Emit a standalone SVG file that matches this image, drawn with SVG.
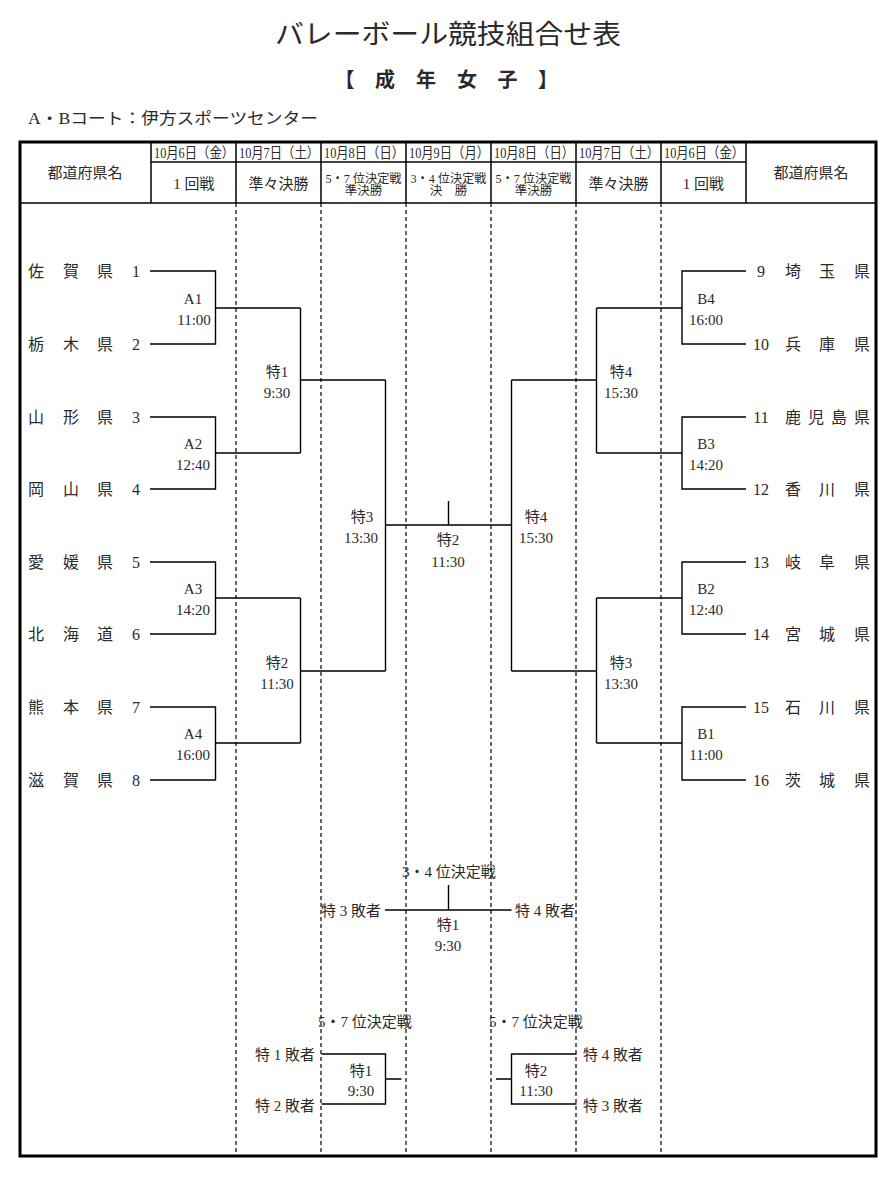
<svg xmlns="http://www.w3.org/2000/svg" width="892" height="1178" viewBox="0 0 892 1178">
<style>
text{font-family:"Liberation Serif","Noto Sans CJK JP",serif;fill:#2a2a2a}
.t{font-size:16px}
.m{font-size:15px;text-anchor:middle}
.h{font-size:15px;text-anchor:middle}
.d{font-size:14.5px}
.s{font-size:12.5px;text-anchor:middle}
.e{font-size:15px;text-anchor:end}
.b{fill:none;stroke:#000;stroke-width:1.4}
.dash{fill:none;stroke:#000;stroke-width:1.2;stroke-dasharray:4,3}
.frame{fill:none;stroke:#000;stroke-width:3}
.grid{fill:none;stroke:#000;stroke-width:1.5}
</style>
<rect width="892" height="1178" fill="#fff"/>
<g id="title">
<text x="275" y="44" font-size="27" textLength="346" lengthAdjust="spacingAndGlyphs">バレーボール競技組合せ表</text>
</g>
<g id="subtitle" font-size="20" font-weight="bold" text-anchor="middle">
<text x="344.5" y="87">【</text><text x="385" y="87">成</text><text x="426" y="87">年</text><text x="467" y="87">女</text><text x="507.5" y="87">子</text><text x="548" y="87">】</text>
</g>
<g id="venue"><text x="28" y="124" font-size="16" textLength="290" lengthAdjust="spacingAndGlyphs">A・Bコート：伊方スポーツセンター</text></g>
<g id="table">
<rect class="frame" x="20" y="142" width="856" height="1014"/>
<line class="grid" x1="151" y1="162" x2="746" y2="162"/>
<line class="grid" x1="20" y1="203" x2="876" y2="203"/>
<line class="grid" x1="151" y1="142" x2="151" y2="203"/>
<line class="grid" x1="236" y1="142" x2="236" y2="203"/>
<line class="grid" x1="321" y1="142" x2="321" y2="203"/>
<line class="grid" x1="406" y1="142" x2="406" y2="203"/>
<line class="grid" x1="491" y1="142" x2="491" y2="203"/>
<line class="grid" x1="576" y1="142" x2="576" y2="203"/>
<line class="grid" x1="661" y1="142" x2="661" y2="203"/>
<line class="grid" x1="746" y1="142" x2="746" y2="203"/>
<line class="dash" x1="236" y1="203" x2="236" y2="1155"/>
<line class="dash" x1="321" y1="203" x2="321" y2="1155"/>
<line class="dash" x1="406" y1="203" x2="406" y2="1155"/>
<line class="dash" x1="491" y1="203" x2="491" y2="1155"/>
<line class="dash" x1="576" y1="203" x2="576" y2="1155"/>
<line class="dash" x1="661" y1="203" x2="661" y2="1155"/>
</g>
<g id="header">
<text class="h" x="85" y="178">都道府県名</text>
<text class="h" x="811" y="178">都道府県名</text>
<text class="d" x="154" y="158" textLength="80" lengthAdjust="spacingAndGlyphs">10月6日（金）</text>
<text class="d" x="239" y="158" textLength="80" lengthAdjust="spacingAndGlyphs">10月7日（土）</text>
<text class="d" x="324" y="158" textLength="80" lengthAdjust="spacingAndGlyphs">10月8日（日）</text>
<text class="d" x="409" y="158" textLength="80" lengthAdjust="spacingAndGlyphs">10月9日（月）</text>
<text class="d" x="494" y="158" textLength="80" lengthAdjust="spacingAndGlyphs">10月8日（日）</text>
<text class="d" x="579" y="158" textLength="80" lengthAdjust="spacingAndGlyphs">10月7日（土）</text>
<text class="d" x="664" y="158" textLength="80" lengthAdjust="spacingAndGlyphs">10月6日（金）</text>
<text class="h" x="194" y="189">1 回戦</text>
<text class="h" x="278.5" y="189">準々決勝</text>
<text class="s" x="363.5" y="183" textLength="76" lengthAdjust="spacingAndGlyphs">5・7 位決定戦</text>
<text class="s" x="363.5" y="195">準決勝</text>
<text class="s" x="448.5" y="183" textLength="76" lengthAdjust="spacingAndGlyphs">3・4 位決定戦</text>
<text class="s" x="448.5" y="195">決　勝</text>
<text class="s" x="533.5" y="183" textLength="76" lengthAdjust="spacingAndGlyphs">5・7 位決定戦</text>
<text class="s" x="533.5" y="195">準決勝</text>
<text class="h" x="618.5" y="189">準々決勝</text>
<text class="h" x="703.5" y="189">1 回戦</text>
</g>
<g id="teams-left" class="t">
<g id="team1"><text x="28" y="277">佐</text><text x="63" y="277">賀</text><text x="97" y="277">県</text><text x="136" y="277" text-anchor="middle">1</text></g>
<g id="team2"><text x="28" y="350">栃</text><text x="63" y="350">木</text><text x="97" y="350">県</text><text x="136" y="350" text-anchor="middle">2</text></g>
<g id="team3"><text x="28" y="423">山</text><text x="63" y="423">形</text><text x="97" y="423">県</text><text x="136" y="423" text-anchor="middle">3</text></g>
<g id="team4"><text x="28" y="495">岡</text><text x="63" y="495">山</text><text x="97" y="495">県</text><text x="136" y="495" text-anchor="middle">4</text></g>
<g id="team5"><text x="28" y="568">愛</text><text x="63" y="568">媛</text><text x="97" y="568">県</text><text x="136" y="568" text-anchor="middle">5</text></g>
<g id="team6"><text x="28" y="640">北</text><text x="63" y="640">海</text><text x="97" y="640">道</text><text x="136" y="640" text-anchor="middle">6</text></g>
<g id="team7"><text x="28" y="713">熊</text><text x="63" y="713">本</text><text x="97" y="713">県</text><text x="136" y="713" text-anchor="middle">7</text></g>
<g id="team8"><text x="28" y="786">滋</text><text x="63" y="786">賀</text><text x="97" y="786">県</text><text x="136" y="786" text-anchor="middle">8</text></g>
</g>
<g id="teams-right" class="t">
<g id="team9"><text x="761" y="277" text-anchor="middle">9</text><text x="785" y="277">埼</text><text x="819" y="277">玉</text><text x="854" y="277">県</text></g>
<g id="team10"><text x="761" y="350" text-anchor="middle">10</text><text x="785" y="350">兵</text><text x="819" y="350">庫</text><text x="854" y="350">県</text></g>
<g id="team11"><text x="761" y="423" text-anchor="middle">11</text><text x="785" y="423">鹿</text><text x="808" y="423">児</text><text x="831" y="423">島</text><text x="854" y="423">県</text></g>
<g id="team12"><text x="761" y="495" text-anchor="middle">12</text><text x="785" y="495">香</text><text x="819" y="495">川</text><text x="854" y="495">県</text></g>
<g id="team13"><text x="761" y="568" text-anchor="middle">13</text><text x="785" y="568">岐</text><text x="819" y="568">阜</text><text x="854" y="568">県</text></g>
<g id="team14"><text x="761" y="640" text-anchor="middle">14</text><text x="785" y="640">宮</text><text x="819" y="640">城</text><text x="854" y="640">県</text></g>
<g id="team15"><text x="761" y="713" text-anchor="middle">15</text><text x="785" y="713">石</text><text x="819" y="713">川</text><text x="854" y="713">県</text></g>
<g id="team16"><text x="761" y="786" text-anchor="middle">16</text><text x="785" y="786">茨</text><text x="819" y="786">城</text><text x="854" y="786">県</text></g>
</g>
<g id="connectors" class="b">
<path d="M150 271H215.5V344H150M215.5 308H300.5"/>
<path d="M150 417H215.5V489H150M215.5 453H300.5"/>
<path d="M150 562H215.5V634H150M215.5 598H300.5"/>
<path d="M150 707H215.5V780H150M215.5 743H300.5"/>
<path d="M300.5 308V453M300.5 380H385.5"/>
<path d="M300.5 598V743M300.5 671H385.5"/>
<path d="M385.5 380V671M385.5 525H511.5M448.5 501V525"/>
<path d="M746 271H682V344H746M682 308H596.5"/>
<path d="M746 417H682V489H746M682 453H596.5"/>
<path d="M746 562H682V634H746M682 598H596.5"/>
<path d="M746 707H682V780H746M682 743H596.5"/>
<path d="M596.5 308V453M596.5 380H511.5"/>
<path d="M596.5 598V743M596.5 671H511.5"/>
<path d="M511.5 380V671"/>
<path d="M448.5 885V910M385 910H511.5"/>
<path d="M321.5 1054H385.5V1104H321.5M385.5 1079H401.5"/>
<path d="M576.5 1054H511.5V1104H576.5M511.5 1079H496"/>
</g>
<g id="matches-left">
<g id="mA1"><text class="m" x="193" y="304">A1</text><text class="m" x="194" y="325">11:00</text></g>
<g id="mA2"><text class="m" x="193" y="449">A2</text><text class="m" x="193" y="470">12:40</text></g>
<g id="mA3"><text class="m" x="193" y="594">A3</text><text class="m" x="193" y="615">14:20</text></g>
<g id="mA4"><text class="m" x="193" y="739">A4</text><text class="m" x="193" y="760">16:00</text></g>
<g id="mL-t1"><text class="m" x="277" y="377">特1</text><text class="m" x="277" y="398">9:30</text></g>
<g id="mL-t2"><text class="m" x="277" y="668">特2</text><text class="m" x="277" y="689">11:30</text></g>
<g id="mL-t3"><text class="m" x="362" y="522">特3</text><text class="m" x="361" y="543">13:30</text></g>
</g>
<g id="match-final"><text class="m" x="448" y="545">特2</text><text class="m" x="448" y="567">11:30</text></g>
<g id="matches-right">
<g id="mR-t4sf"><text class="m" x="536" y="522">特4</text><text class="m" x="536" y="543">15:30</text></g>
<g id="mR-t4"><text class="m" x="621" y="377">特4</text><text class="m" x="621" y="398">15:30</text></g>
<g id="mR-t3"><text class="m" x="621" y="668">特3</text><text class="m" x="621" y="689">13:30</text></g>
<g id="mB4"><text class="m" x="706" y="304">B4</text><text class="m" x="706" y="325">16:00</text></g>
<g id="mB3"><text class="m" x="706" y="449">B3</text><text class="m" x="706" y="470">14:20</text></g>
<g id="mB2"><text class="m" x="706" y="594">B2</text><text class="m" x="706" y="615">12:40</text></g>
<g id="mB1"><text class="m" x="706" y="739">B1</text><text class="m" x="706" y="760">11:00</text></g>
</g>
<g id="third-place">
<text class="m" x="449" y="877">3・4 位決定戦</text>
<text class="e" x="381" y="916">特 3 敗者</text>
<text x="515" y="916" font-size="15">特 4 敗者</text>
<text class="m" x="448" y="930">特1</text>
<text class="m" x="448" y="951">9:30</text>
</g>
<g id="fifth-left">
<text x="318" y="1027" font-size="15">5・7 位決定戦</text>
<text class="e" x="315" y="1060">特 1 敗者</text>
<text class="e" x="315" y="1111">特 2 敗者</text>
<text class="m" x="361" y="1076">特1</text>
<text class="m" x="361" y="1096">9:30</text>
</g>
<g id="fifth-right">
<text x="489" y="1027" font-size="15">5・7 位決定戦</text>
<text x="583" y="1060" font-size="15">特 4 敗者</text>
<text x="583" y="1111" font-size="15">特 3 敗者</text>
<text class="m" x="536" y="1076">特2</text>
<text class="m" x="536" y="1096">11:30</text>
</g>
</svg>
